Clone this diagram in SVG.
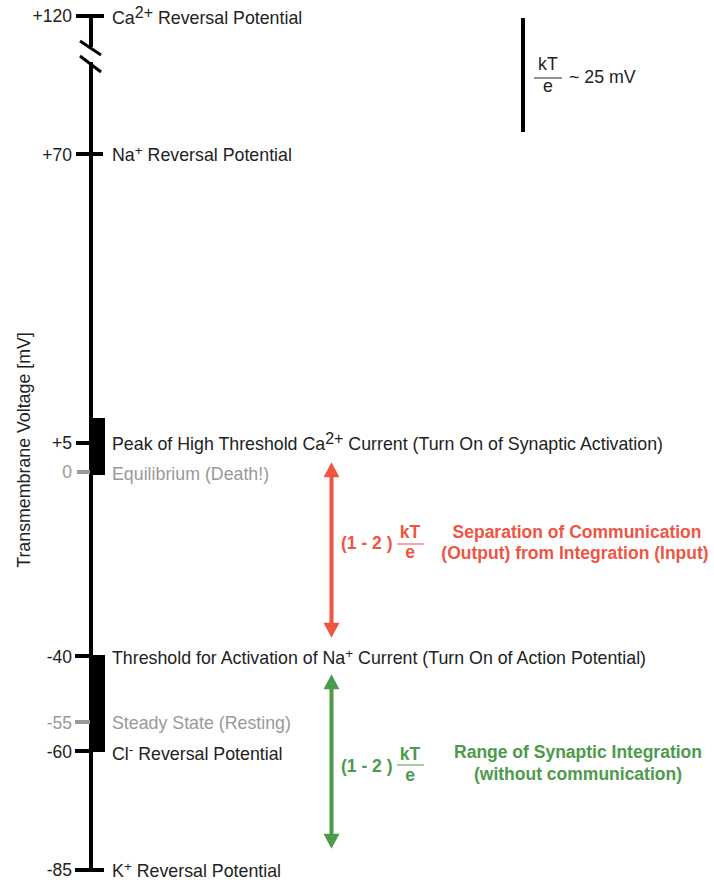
<svg xmlns="http://www.w3.org/2000/svg" width="714" height="884" viewBox="0 0 714 884">
<defs>
<style>
text{font-family:"Liberation Sans",Arial,sans-serif;font-size:17.8px;fill:#222}
.num{text-anchor:end;font-size:17.5px}
.gray{fill:#999}
.red{fill:#EF5543;font-weight:bold;font-size:17.5px}
.green{fill:#4C9A4C;font-weight:bold;font-size:17.5px}
.axis{stroke:#000;stroke-width:4;fill:none}
.tick{stroke:#000;stroke-width:4}
.gtick{stroke:#999;stroke-width:4}
.sup{font-size:13.5px}
</style>
<marker id="ahR" markerUnits="userSpaceOnUse" markerWidth="16" markerHeight="16" viewBox="0 0 14 15" refX="4" refY="7.5" orient="auto-start-reverse">
<path d="M0,0 L14,7.5 L0,15 z" fill="#EF5543"/>
</marker>
<marker id="ahG" markerUnits="userSpaceOnUse" markerWidth="16" markerHeight="16" viewBox="0 0 14 15" refX="4" refY="7.5" orient="auto-start-reverse">
<path d="M0,0 L14,7.5 L0,15 z" fill="#4C9A4C"/>
</marker>
</defs>
<rect width="714" height="884" fill="#fff"/>

<g id="axis">
<line class="axis" x1="91" y1="16" x2="91" y2="47"/>
<line class="axis" x1="91" y1="62" x2="91" y2="871"/>
<line x1="80" y1="41" x2="101" y2="55" stroke="#000" stroke-width="3"/>
<line x1="80" y1="56" x2="101" y2="72" stroke="#000" stroke-width="3"/>
<rect x="89" y="418" width="16" height="57" fill="#000"/>
<rect x="89" y="655" width="16" height="97" fill="#000"/>
<text transform="translate(30,450) rotate(-90)" text-anchor="middle" font-size="15.6">Transmembrane Voltage [mV]</text>
</g>

<g id="ca-rev">
<line class="tick" x1="76" y1="16" x2="104" y2="16"/>
<text class="num" x="72" y="22">+120</text>
<text x="112" y="24">Ca<tspan dy="-6" font-size="16">2+</tspan><tspan dy="6"> Reversal Potential</tspan></text>
</g>

<g id="na-rev">
<line class="tick" x1="76" y1="154" x2="103" y2="154"/>
<text class="num" x="72" y="161">+70</text>
<text x="112" y="161">Na<tspan dy="-6" class="sup">+</tspan><tspan dy="6"> Reversal Potential</tspan></text>
</g>

<g id="kte-scale">
<line x1="523" y1="18" x2="523" y2="132" stroke="#000" stroke-width="4"/>
<text x="548" y="70" text-anchor="middle">kT</text>
<line x1="534" y1="78" x2="562" y2="78" stroke="#222" stroke-width="1"/>
<text x="548" y="92" text-anchor="middle">e</text>
<text x="569" y="83">~ 25 mV</text>
</g>

<g id="ca-peak">
<line class="tick" x1="76" y1="443" x2="92" y2="443"/>
<text class="num" x="72" y="449">+5</text>
<text x="112" y="450">Peak of High Threshold Ca<tspan dy="-6" font-size="16">2+</tspan><tspan dy="6"> Current (Turn On of Synaptic Activation)</tspan></text>
</g>

<g id="equilibrium">
<line class="gtick" x1="77" y1="472" x2="90" y2="472"/>
<text class="num gray" x="72" y="478">0</text>
<text class="gray" x="112" y="480">Equilibrium (Death!)</text>
</g>

<g id="na-threshold">
<line class="tick" x1="75" y1="656" x2="92" y2="656"/>
<text class="num" x="72" y="663">-40</text>
<text x="112" y="664">Threshold for Activation of Na<tspan dy="-6" class="sup">+</tspan><tspan dy="6"> Current (Turn On of Action Potential)</tspan></text>
</g>

<g id="steady-state">
<line class="gtick" x1="75" y1="722" x2="90" y2="722"/>
<text class="num gray" x="72" y="729">-55</text>
<text class="gray" x="112" y="729">Steady State (Resting)</text>
</g>

<g id="cl-rev">
<line class="tick" x1="75" y1="751" x2="92" y2="751"/>
<text class="num" x="72" y="758">-60</text>
<text x="112" y="760">Cl<tspan dy="-6" class="sup">-</tspan><tspan dy="6"> Reversal Potential</tspan></text>
</g>

<g id="k-rev">
<line class="tick" x1="75" y1="870" x2="104" y2="870"/>
<text class="num" x="72" y="876">-85</text>
<text x="112" y="877">K<tspan dy="-6" class="sup">+</tspan><tspan dy="6"> Reversal Potential</tspan></text>
</g>

<g id="separation-label">
<text class="red" x="341" y="549">(1 - 2 )</text>
<text class="red" x="410" y="538" text-anchor="middle">kT</text>
<line x1="397" y1="544" x2="424" y2="544" stroke="#EF5543" stroke-width="1"/>
<text class="red" x="410" y="558" text-anchor="middle">e</text>
<text class="red" x="577" y="538" text-anchor="middle">Separation of Communication</text>
<text class="red" x="575" y="559" text-anchor="middle">(Output) from Integration (Input)</text>
</g>

<g id="integration-label">
<text class="green" x="341" y="772">(1 - 2 )</text>
<text class="green" x="410" y="760" text-anchor="middle">kT</text>
<line x1="397" y1="765" x2="424" y2="765" stroke="#4C9A4C" stroke-width="1"/>
<text class="green" x="410" y="781" text-anchor="middle">e</text>
<text class="green" x="578" y="758" text-anchor="middle">Range of Synaptic Integration</text>
<text class="green" x="578" y="780" text-anchor="middle">(without communication)</text>
</g>

<g id="connectors">
<line x1="331.5" y1="473" x2="331.5" y2="627" stroke="#EF5543" stroke-width="4" marker-start="url(#ahR)" marker-end="url(#ahR)"/>
<line x1="331.5" y1="685" x2="331.5" y2="838" stroke="#4C9A4C" stroke-width="4" marker-start="url(#ahG)" marker-end="url(#ahG)"/>
</g>
</svg>
